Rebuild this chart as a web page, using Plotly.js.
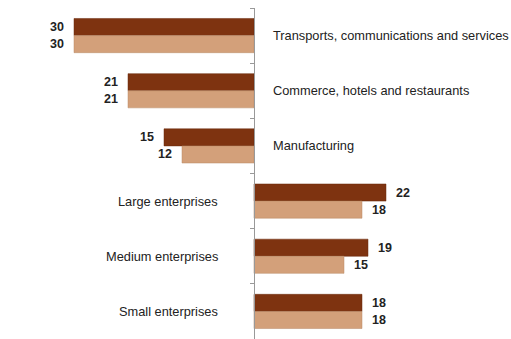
<!DOCTYPE html>
<html>
<head>
<meta charset="utf-8">
<script src="https://cdn.plot.ly/plotly-3.0.1.min.js"></script>
<style>html,body{margin:0;padding:0;background:#fff;}#chart{width:511px;height:339px;}</style>
</head>
<body>
<div id="chart"></div>
<script>
var categories = ["Transports, communications and services", "Commerce, hotels and restaurants", "Manufacturing", "Large enterprises", "Medium enterprises", "Small enterprises"];
var seriesDark = [-30, -21, -15, 22, 19, 18];
var seriesLight = [-30, -21, -12, 18, 15, 18];
var seriesNames = ["Series 1", "Series 2"];
var colors = ["#7e3310", "#d3a07a"];

var traces = [seriesDark, seriesLight].map(function (vals, s) {
  return {
    type: "bar",
    orientation: "h",
    name: seriesNames[s],
    y: categories,
    x: vals,
    marker: {color: colors[s], line: {color: s ? "#b88a66" : "#6a2a0c", width: 0.5}},
    hoverinfo: "x+y"
  };
});

var annotations = [];
// category labels
categories.forEach(function (c, i) {
  var neg = seriesDark[i] < 0;
  annotations.push({
    x: neg ? 2.9 : -5.6, y: c, xref: "x", yref: "y",
    text: c, showarrow: false,
    xanchor: neg ? "left" : "right", yanchor: "middle",
    font: {family: "Liberation Sans, Arial, sans-serif", size: 12.8, color: "#222"}
  });
});
// value labels
[seriesDark, seriesLight].forEach(function (vals, s) {
  vals.forEach(function (v, i) {
    annotations.push({
      x: v, y: categories[i], xref: "x", yref: "y",
      text: String(Math.abs(v)), showarrow: false,
      xanchor: v < 0 ? "right" : "left", yanchor: "middle",
      xshift: v < 0 ? -8 : 8, yshift: s === 0 ? 8.5 : -8.5,
      font: {family: "Liberation Sans, Arial, sans-serif", size: 12.5, color: "#222", weight: "bold"}
    });
  });
});

var layout = {
  width: 511, height: 339,
  margin: {l: 0, r: 0, t: 8, b: 0, pad: 0},
  paper_bgcolor: "#fff", plot_bgcolor: "#fff",
  showlegend: false,
  barmode: "group",
  bargap: 0.38,
  bargroupgap: 0,
  xaxis: {range: [-254 / 6, 257 / 6], showgrid: false, zeroline: false, showticklabels: false, showline: false, ticks: ""},
  yaxis: {
    type: "category", autorange: "reversed",
    anchor: "free", position: 254 / 511,
    showline: true, linecolor: "#999", linewidth: 1,
    ticks: "outside", tickson: "boundaries", ticklen: 4, tickcolor: "#999",
    showticklabels: false, showgrid: false
  },
  annotations: annotations
};

Plotly.newPlot("chart", traces, layout, {displayModeBar: false, staticPlot: true});
</script>
</body>
</html>
